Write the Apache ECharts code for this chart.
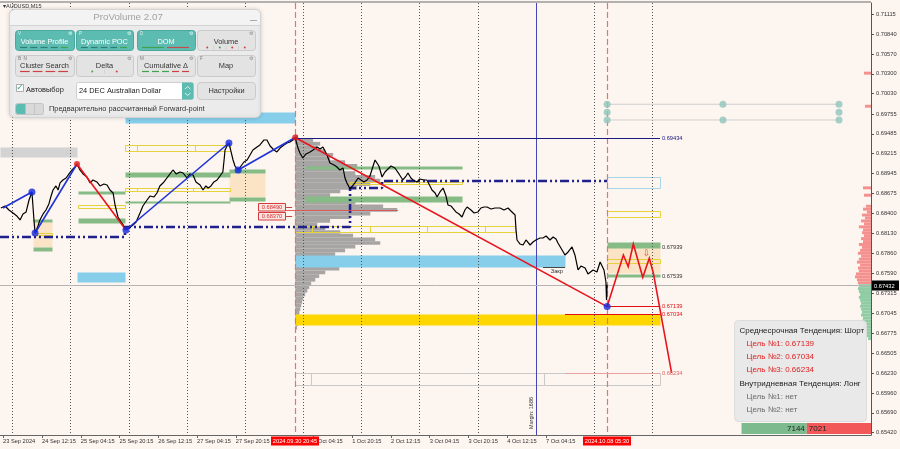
<!DOCTYPE html>
<html><head><meta charset="utf-8"><title>AUDUSD M15</title>
<script src="https://cdn.jsdelivr.net/npm/echarts@6/dist/echarts.min.js"></script>
<style>html,body{margin:0;padding:0;background:#fdf5f0;overflow:hidden}#c{width:900px;height:449px}</style>
</head><body><div id="c"></div>
<script>
// ---------- axes ----------
const X_MIN = -5.08, X_MAX = 354.4;          // trading hours since 24 Sep 00:00
const Y_MIN = 0.65389, Y_MAX = 0.71264;
const xTickHours = [-3.84,12.25,28.25,44.25,60.25,76.25,92.25,124.25,140.25,156.25,172.25,188.25,204.25,220.25];
const xTickLabels = ['23 Sep 2024','24 Sep 12:15','25 Sep 04:15','25 Sep 20:15','26 Sep 12:15','27 Sep 04:15','27 Sep 20:15','1 Oct 04:15','1 Oct 20:15','2 Oct 12:15','3 Oct 04:15','3 Oct 20:15','4 Oct 12:15','7 Oct 04:15'];
const yTickValues = [0.71115,0.70840,0.70570,0.70300,0.70030,0.69755,0.69485,0.69215,0.68945,0.68675,0.68400,0.68130,0.67860,0.67590,0.67315,0.67045,0.66775,0.66505,0.66230,0.65960,0.65690,0.65420];
const dayHours = [0,24,48,72,96,120,144,168,192,216,240,264];
const eventHours = [116.75,245.5];
const dateTagLabels = ['2024.09.30 20:45','2024.10.08 05:30'];
const marginLineHours = [216.1];

// ---------- price (close line) ----------
const priceHours = [-4.7,-3.0,-1.4,0.3,1.9,3.2,4.4,5.7,6.9,8.1,9.0,9.4,10.6,11.4,12.7,13.9,15.1,16.0,16.8,18.0,18.9,19.7,20.9,22.2,23.4,24.6,25.9,26.7,27.9,29.2,30.8,32.1,33.3,34.9,36.2,37.8,39.1,40.3,41.6,42.4,43.6,44.9,46.1,46.9,48.2,49.8,51.1,52.7,53.9,55.6,56.8,58.5,59.7,60.9,62.6,63.8,65.1,66.3,67.6,69.2,70.5,72.1,73.3,74.6,75.8,77.5,78.7,79.9,80.8,82.0,83.2,84.5,85.7,86.9,87.4,87.8,88.6,89.4,90.3,91.1,91.9,93.2,94.4,95.6,96.9,98.1,99.3,101.0,102.2,103.9,105.1,106.4,108.0,109.2,110.5,112.1,113.4,114.6,115.8,116.75,117.9,118.7,119.9,121.2,122.9,124.1,125.8,127.0,128.2,129.9,131.1,132.8,134.0,135.2,136.5,137.3,138.1,139.4,140.2,141.4,142.7,143.5,145.1,146.4,147.6,148.9,149.7,150.5,151.3,152.6,153.8,154.6,156.3,157.9,159.6,161.2,162.5,163.3,164.5,165.4,167.0,168.2,169.9,171.1,172.4,173.2,174.5,175.3,176.5,177.8,179.0,179.8,181.1,181.9,183.1,184.4,185.6,186.8,187.7,189.3,190.6,192.2,193.4,194.7,195.9,197.6,199.2,201.3,202.9,204.6,205.8,206.6,207.5,207.9,208.3,209.5,210.8,212.0,213.7,214.9,216.1,217.8,219.0,220.3,221.9,223.2,224.4,225.2,226.0,226.9,228.1,229.4,231.0,232.2,233.5,234.7,236.4,237.6,238.4,239.7,241.3,242.6,243.4,244.2,245.0,245.25,245.5];
const priceValues = [0.68476,0.68503,0.68449,0.68408,0.68367,0.68313,0.68395,0.68422,0.68585,0.68694,0.68286,0.68136,0.68231,0.68313,0.68395,0.68449,0.68531,0.68639,0.68721,0.68776,0.68721,0.68817,0.68857,0.68884,0.68939,0.68993,0.69034,0.69075,0.68993,0.68939,0.68898,0.68817,0.68857,0.68830,0.68776,0.68803,0.68789,0.68721,0.68680,0.68517,0.68354,0.68286,0.68231,0.68177,0.68204,0.68245,0.68286,0.68408,0.68503,0.68585,0.68639,0.68626,0.68680,0.68776,0.68830,0.68884,0.68939,0.68993,0.68939,0.68966,0.68952,0.68884,0.68939,0.68925,0.68830,0.68789,0.68721,0.68776,0.68748,0.68776,0.68830,0.68857,0.68911,0.68966,0.69129,0.69265,0.69319,0.69360,0.69238,0.69129,0.69047,0.68993,0.69047,0.69102,0.69129,0.69197,0.69265,0.69306,0.69333,0.69401,0.69401,0.69319,0.69265,0.69238,0.69292,0.69333,0.69360,0.69374,0.69401,0.69434,0.69292,0.69224,0.69156,0.69211,0.69238,0.69265,0.69306,0.69279,0.69306,0.69197,0.69088,0.69061,0.69034,0.68993,0.69020,0.68884,0.68817,0.68735,0.68762,0.68817,0.68884,0.68898,0.68830,0.68857,0.68911,0.69047,0.69129,0.69156,0.69047,0.68898,0.68966,0.68993,0.69047,0.69020,0.68939,0.68857,0.68911,0.68952,0.68884,0.68857,0.68830,0.68871,0.68857,0.68857,0.68776,0.68721,0.68680,0.68626,0.68694,0.68748,0.68639,0.68517,0.68503,0.68476,0.68422,0.68395,0.68354,0.68449,0.68490,0.68449,0.68408,0.68422,0.68476,0.68490,0.68490,0.68463,0.68476,0.68476,0.68449,0.68476,0.68435,0.68449,0.68381,0.68177,0.68041,0.67987,0.67973,0.68041,0.67973,0.68014,0.68041,0.68068,0.68068,0.68095,0.68041,0.68082,0.68055,0.68000,0.68000,0.67905,0.67837,0.67878,0.67946,0.67837,0.67633,0.67687,0.67660,0.67579,0.67592,0.67633,0.67606,0.67742,0.67715,0.67633,0.67470,0.67225,0.67432];
const currentPrice = 0.67432;

// ---------- dynamic POC (step line) ----------
const pocHours  = [-5.08,46.5,46.5,139.4,139.4,152.6,152.6,245.5];
const pocPrices = [0.68082,0.68082,0.68218,0.68218,0.68748,0.68748,0.68843,0.68843];

// ---------- zigzag ----------
const zigzagBlue = [
  [[-3.84,0.68476],[8.1,0.68694]],
  [[9.4,0.68136],[26.7,0.69075]],
  [[46.9,0.68177],[89.4,0.69360]],
  [[93.2,0.68993],[116.75,0.69434]]
];
const zigzagRed = [
  [[26.7,0.69075],[46.9,0.68177]],
  [[116.75,0.69434],[245.5,0.67135]],
  [[245.5,0.67135],[252.2,0.67837],[254.2,0.67678],[256.3,0.67987],[260.2,0.67534],[262.9,0.67792],[264.6,0.67588],[272.1,0.66234]]
];
const blueDots = [[8.1,0.68694],[9.4,0.68136],[46.9,0.68177],[89.4,0.69360],[93.2,0.68993],[245.5,0.67135]];
const redDots = [[26.7,0.69075],[116.75,0.69434]];
const forwardDots = [[245.5,0.69887],[245.5,0.69778],[245.5,0.69673],[293.3,0.69887],[293.3,0.69673],[341.2,0.69887],[341.2,0.69778],[341.2,0.69673]];
const forwardLinks = [[[245.5,0.69887],[341.2,0.69887]],[[245.5,0.69673],[341.2,0.69673]]];

// ---------- zones [startHour, endHour, lowPrice, highPrice] ----------
const greenZones = [
  [8.5,16.4,0.68286,0.68327],[8.5,16.4,0.67891,0.67946],
  [27.1,46.5,0.68667,0.68707],[27.1,46.5,0.68272,0.68340],
  [46.5,89.8,0.68898,0.68966],[46.5,89.8,0.68544,0.68571],
  [89.4,104.3,0.68952,0.69007],[89.4,104.3,0.68571,0.68626],
  [120.8,185.6,0.69007,0.69047],[120.8,185.6,0.68558,0.68639],
  [245.5,267.3,0.67939,0.68020],[245.5,267.3,0.67539,0.67585]
];
const beigeZones = [[8.5,16.4,0.67946,0.68286],[89.4,104.3,0.68626,0.68952],[245.5,267.3,0.67585,0.67939]];
const yellowBoxes = [
  [8.5,16.4,0.68109,0.68136],
  [27.1,46.5,0.68476,0.68517],
  [46.5,51.5,0.68707,0.68748],[51.5,74.6,0.68707,0.68748],[74.6,89.8,0.68707,0.68748],
  [46.5,51.5,0.69251,0.69333],[51.5,75.4,0.69251,0.69333],[75.4,89.8,0.69251,0.69333],
  [139.4,185.6,0.68803,0.68830],
  [116.75,123.7,0.68150,0.68231],[123.7,147.6,0.68150,0.68231],[147.6,171.1,0.68150,0.68231],[171.1,195.1,0.68150,0.68231],[195.1,207.5,0.68150,0.68231],
  [245.5,267.3,0.67728,0.67783],
  [245.5,267.3,0.68354,0.68435]
];
const blueZones = [[46.5,116.75,0.69632,0.69782],[26.7,46.5,0.67470,0.67606],[116.75,228.1,0.67674,0.67837]];
const blueOutlineBoxes = [[245.5,267.3,0.68748,0.68898]];
const grayZones = [[-5.08,26.7,0.69170,0.69306]];
const goldZones = [[116.75,267.3,0.66885,0.67034]];
const grayOutlineBoxes = [[116.75,123.3,0.66069,0.66232],[123.3,219.4,0.66069,0.66232],[219.4,267.3,0.66069,0.66232]];

// ---------- levels ----------
const levelPrices = [0.69434,0.67139,0.67034,0.66234];
const levelStartHours = [116.75,245.5,228.1,228.1];
const levelEndHours = [267.3,267.3,267.3,267.3];
const labelOnlyPrices = [0.67939,0.67539];
const pocRedPrice = 0.68440, pocRedHours = [111.5,159.2];
const redTagPrices = [0.68490,0.68370];
const closeMarkPrice = 0.67674, closeMarkHours = [219.0,228.1];

// ---------- volume profile (session from 30 Sep 20:45) ----------
const profileStartHour = 116.75;
const profilePrices = [0.6945,0.6940,0.6935,0.6930,0.6925,0.6920,0.6915,0.6910,0.6905,0.6900,0.6895,0.6890,0.6885,0.6880,0.6875,0.6870,0.6865,0.6860,0.6855,0.6850,0.6845,0.6840,0.6835,0.6830,0.6825,0.6820,0.6815,0.6810,0.6805,0.6800,0.6795,0.6790,0.6785,0.6780,0.6775,0.6770,0.6765,0.6760,0.6755,0.6750,0.6745,0.6740,0.6735,0.6730,0.6725,0.6720,0.6715,0.6710,0.6705,0.6700,0.6695,0.6690,0.6685];
const profileWidths = [1.2,7.4,10.3,9.1,12.4,15.7,14.4,20.6,25.6,19.8,24.8,33.0,35.1,31.0,25.6,18.6,14.4,19.8,24.8,36.3,42.1,31.0,22.7,14.4,9.1,12.4,18.6,23.9,33.0,35.1,24.8,20.6,16.5,18.6,17.3,19.8,18.2,12.4,9.9,8.3,6.6,5.8,5.0,4.1,3.3,2.9,2.5,2.1,1.7,1.7,1.2,1.2,0.8];

// ---------- DOM ----------
const domSellPrices = [0.7031,0.6986,0.6875,0.6865,0.6850,0.6846,0.6842,0.6838,0.6834,0.6830,0.6826,0.6822,0.6818,0.6814,0.6810,0.6806,0.6802,0.6798,0.6794,0.6790,0.6786,0.6782,0.6778,0.6774,0.6770,0.6766,0.6762,0.6758,0.6754,0.6750,0.6746];
const domSellSizes  = [2.9,2.5,3.3,2.9,2.1,3.3,1.7,3.7,2.5,4.1,2.9,5.0,3.3,3.7,2.9,4.1,3.3,5.0,3.7,4.5,5.4,4.1,5.0,5.8,4.5,5.4,5.0,6.2,6.6,5.8,5.4];
const domBuyPrices = [0.6742,0.6738,0.6734,0.6730,0.6726,0.6722,0.6718,0.6714,0.6710,0.6706,0.6702,0.6698,0.6694,0.6690,0.6686,0.6682,0.6678,0.6674,0.6670];
const domBuySizes  = [5.0,5.4,5.0,4.5,5.0,4.5,4.1,4.5,4.1,3.7,4.1,3.3,3.7,2.9,3.3,2.5,2.1,1.7,1.2];
const buyVolume = 7144, sellVolume = 7021;

// ---------- texts ----------
const infoLines = ['Среднесрочная Тенденция: Шорт','Цель №1: 0.67139','Цель №2: 0.67034','Цель №3: 0.66234','Внутридневная Тенденция: Лонг','Цель №1: нет','Цель №2: нет'];
const panelButtons = [['Volume Profile','Dynamic POC','DOM','Volume'],['Cluster Search','Delta','Cumulative Δ','Map']];

// =====================================================================
const FONT = '"Liberation Sans", Arial, sans-serif';
const f = s => s + 'px ' + FONT;

function zoneSeries(zones, style, z){
  return {type:'custom', z, silent:true, clip:true, data:zones, encode:{x:[0,1], y:[2,3]},
    renderItem(params, api){
      const a = api.coord([api.value(0), api.value(3)]);
      const b = api.coord([api.value(1), api.value(2)]);
      return {type:'rect', shape:{x:Math.round(a[0])+0.5, y:Math.round(a[1])+0.5, width:Math.round(b[0]-a[0]), height:Math.max(1,Math.round(b[1]-a[1]))}, style:Object.assign({}, style)};
    }};
}
function vlineSeries(hours, style, z){
  return {type:'custom', z, silent:true, clip:true, data:hours.map(h=>[h, Y_MIN]), encode:{x:0, y:1},
    renderItem(params, api){
      const x = Math.round(api.coord([api.value(0), Y_MIN])[0]) + 0.5;
      const yb = api.coord([0, Y_MIN])[1], yt = api.coord([0, Y_MAX])[1];
      return {type:'line', shape:{x1:x, y1:yt, x2:x, y2:yb}, style:Object.assign({}, style)};
    }};
}
function barSeries(prices, starts, ends, halfH, color, z){
  return {type:'custom', z, silent:true, clip:true,
    data:prices.map((p,i)=>[starts[i], ends[i], p]), encode:{x:[0,1], y:2},
    renderItem(params, api){
      const a = api.coord([api.value(0), api.value(2)+halfH]);
      const b = api.coord([api.value(1), api.value(2)-halfH]);
      return {type:'rect', shape:{x:a[0], y:a[1], width:b[0]-a[0], height:b[1]-a[1]}, style:{fill:color}};
    }};
}

const levelStyles = [
  {line:'#1a1a80', text:'#1a1a80'},
  {line:'#e01010', text:'#e01010'},
  {line:'#e01010', text:'#e01010'},
  {line:'#e8a0a0', text:'#e06666'}
];

const series = [
  zoneSeries(grayZones, {fill:'#d3d3d3'}, 1),
  zoneSeries(beigeZones, {fill:'#fbe4c6'}, 1),
  barSeries(profilePrices, profilePrices.map(()=>profileStartHour), profileWidths.map(w=>profileStartHour+w), 0.00025, 'rgba(150,150,150,0.85)', 2),
  zoneSeries(blueZones, {fill:'#87ceeb'}, 3),
  zoneSeries(greenZones, {fill:'#86bb86'}, 3),
  zoneSeries(yellowBoxes, {fill:null, stroke:'#e6d23c', lineWidth:1}, 3),
  zoneSeries(goldZones, {fill:'#ffd700'}, 3),
  zoneSeries(grayOutlineBoxes, {fill:null, stroke:'#c9c9c9', lineWidth:1}, 3),
  zoneSeries(blueOutlineBoxes, {fill:null, stroke:'#a6d6e8', lineWidth:1}, 3),
  barSeries(domSellPrices, domSellSizes.map(s=>X_MAX-s), domSellPrices.map(()=>X_MAX), 0.0002, '#f4918f', 3),
  barSeries(domBuyPrices, domBuySizes.map(s=>X_MAX-s), domBuyPrices.map(()=>X_MAX), 0.0002, '#8fcca3', 3),
  vlineSeries(dayHours, {stroke:'#555', lineWidth:1, lineDash:[1,2]}, 4),
  vlineSeries(eventHours, {stroke:'#e67474', lineWidth:1.2, lineDash:[6,3]}, 4),
  vlineSeries(marginLineHours, {stroke:'#4646b4', lineWidth:1}, 4),
  // current price (bid) line + axis tag
  {type:'custom', z:4, silent:true, clip:false, data:[[X_MIN, currentPrice]], encode:{x:0, y:1},
    renderItem(params, api){
      const a = api.coord([X_MIN, api.value(1)]), b = api.coord([X_MAX, api.value(1)]);
      const y = Math.round(a[1]) + 0.5;
      return {type:'group', children:[
        {type:'line', shape:{x1:a[0], y1:y, x2:b[0], y2:y}, style:{stroke:'#b4b4b4', lineWidth:1}},
        {type:'rect', shape:{x:b[0]+1, y:y-5, width:27, height:10}, style:{fill:'#000'}},
        {type:'text', x:b[0]+3, y:y+0.5, style:{text:api.value(1).toFixed(5), fill:'#fff', font:f(5.7), verticalAlign:'middle'}}
      ]};
    }},
  {type:'line', z:5, silent:true, showSymbol:false, data:pocHours.map((h,i)=>[h,pocPrices[i]]),
    lineStyle:{color:'#20208a', width:2.6, type:[9,3,2,3,2,3]}},
  {type:'lines', coordinateSystem:'cartesian2d', z:5, silent:true, polyline:true,
    data:forwardLinks.map(c=>({coords:c})), lineStyle:{color:'#d0d0d0', width:1, opacity:1}},
  {type:'line', z:6, silent:true, showSymbol:false, data:priceHours.map((h,i)=>[h,priceValues[i]]),
    lineStyle:{color:'#000', width:1.2}},
  {type:'lines', coordinateSystem:'cartesian2d', z:7, silent:true, polyline:true,
    data:zigzagBlue.map(c=>({coords:c})), lineStyle:{color:'#1e32d8', width:1.6, opacity:1}},
  {type:'lines', coordinateSystem:'cartesian2d', z:7, silent:true, polyline:true,
    data:zigzagRed.map(c=>({coords:c})), lineStyle:{color:'#e8141e', width:1.6, opacity:1}},
  // level lines with right-end labels
  {type:'custom', z:7, silent:true, clip:false,
    data:levelPrices.map((p,i)=>[levelStartHours[i], levelEndHours[i], p]), encode:{x:[0,1], y:2},
    renderItem(params, api){
      const st = levelStyles[params.dataIndex];
      const a = api.coord([api.value(0), api.value(2)]), b = api.coord([api.value(1), api.value(2)]);
      const y = Math.round(a[1]) + 0.5;
      return {type:'group', children:[
        {type:'line', shape:{x1:a[0], y1:y, x2:b[0], y2:y}, style:{stroke:st.line, lineWidth:1.2}},
        {type:'text', x:b[0]+2, y:y, style:{text:api.value(2).toFixed(5), fill:st.text, font:f(5.7), verticalAlign:'middle'}}
      ]};
    }},
  {type:'custom', z:7, silent:true, clip:false,
    data:labelOnlyPrices.map(p=>[levelEndHours[0], p]), encode:{x:0, y:1},
    renderItem(params, api){
      const a = api.coord([api.value(0), api.value(1)]);
      return {type:'text', x:a[0]+2, y:a[1], style:{text:api.value(1).toFixed(5), fill:'#333', font:f(5.7), verticalAlign:'middle'}};
    }},
  // thin red POC line of session profile
  {type:'lines', coordinateSystem:'cartesian2d', z:6, silent:true,
    data:[{coords:[[pocRedHours[0],pocRedPrice],[pocRedHours[1],pocRedPrice]]}], lineStyle:{color:'#e05050', width:1, opacity:0.9}},
  // close mark
  {type:'custom', z:7, silent:true, clip:false, data:[[closeMarkHours[0], closeMarkHours[1], closeMarkPrice]], encode:{x:[0,1], y:2},
    renderItem(params, api){
      const a = api.coord([api.value(0), api.value(2)]), b = api.coord([api.value(1), api.value(2)]);
      return {type:'group', children:[
        {type:'line', shape:{x1:a[0], y1:Math.round(a[1])+0.5, x2:b[0], y2:Math.round(a[1])+0.5}, style:{stroke:'#444', lineWidth:1}},
        {type:'text', x:b[0]-2, y:a[1]+4, style:{text:'Закр', fill:'#333', font:f(5.7), align:'right', verticalAlign:'middle'}}
      ]};
    }},
  // red boxed price tags
  {type:'custom', z:8, silent:true, clip:false, data:redTagPrices.map(p=>[113.0, p]), encode:{x:0, y:1},
    renderItem(params, api){
      const a = api.coord([api.value(0), api.value(1)]);
      const y = Math.round(a[1]);
      return {type:'group', children:[
        {type:'rect', shape:{x:Math.round(a[0])-27.5, y:y-3.5, width:27, height:7.5}, style:{fill:'#fde6e2', stroke:'#d23c3c', lineWidth:1}},
        {type:'text', x:Math.round(a[0])-14, y:y+0.5, style:{text:api.value(1).toFixed(5), fill:'#d03030', font:f(5.7), align:'center', verticalAlign:'middle'}},
        {type:'line', shape:{x1:a[0], y1:y+0.5, x2:a[0]+6, y2:y+0.5}, style:{stroke:'#d23c3c', lineWidth:1}}
      ]};
    }},
  // forecast arrow
  {type:'custom', z:8, silent:true, clip:false, data:[[261.8, 0.67860]], encode:{x:0, y:1},
    renderItem(params, api){
      const a = api.coord([api.value(0), api.value(1)]);
      return {type:'text', x:a[0], y:a[1], style:{text:'⇩', fill:'#e04a4a', font:'9px "DejaVu Sans", sans-serif', align:'center', verticalAlign:'middle'}};
    }},
  {type:'scatter', z:9, silent:true, symbolSize:7, data:forwardDots, itemStyle:{color:'#8fc5bc'}},
  {type:'scatter', z:9, silent:true, symbolSize:7, data:blueDots, itemStyle:{color:'#1428e0'}},
  {type:'scatter', z:9, silent:true, symbolSize:6, data:redDots, itemStyle:{color:'#e01818'}},
  // date tags on the x axis
  {type:'custom', z:10, silent:true, clip:false, data:eventHours.map(h=>[h, Y_MIN]), encode:{x:0, y:1},
    renderItem(params, api){
      const a = api.coord([api.value(0), Y_MIN]);
      const x = Math.round(a[0]);
      return {type:'group', children:[
        {type:'rect', shape:{x:x-24, y:a[1]+1.5, width:48, height:9}, style:{fill:'#ff0000'}},
        {type:'text', x:x, y:a[1]+6.2, style:{text:dateTagLabels[params.dataIndex], fill:'#fff', font:f(5.7), align:'center', verticalAlign:'middle'}}
      ]};
    }}
];

// ---------- graphics: ProVolume panel, info box ----------
const teal = '#5cbcb1';
const G = [];
function add(el){ el.z = 100; G.push(el); }
add({type:'line', shape:{x1:0, y1:2, x2:871, y2:2}, style:{stroke:'#9a9a9a', lineWidth:1.5}});
add({type:'text', x:3, y:6.5, style:{text:'▾AUDUSD,M15', fill:'#333', font:f(5.5), verticalAlign:'middle'}});
add({type:'rect', shape:{x:9.5, y:9.5, width:251, height:108, r:5}, style:{fill:'#ebebeb', stroke:'#d4d4d4', lineWidth:1, shadowBlur:4, shadowColor:'rgba(0,0,0,0.15)'}});
add({type:'rect', shape:{x:10, y:10, width:250, height:15.5, r:[5,5,0,0]}, style:{fill:'#f3f3f3'}});
add({type:'line', shape:{x1:10, y1:25.5, x2:260, y2:25.5}, style:{stroke:'#d2d2d2', lineWidth:1}});
add({type:'text', x:128, y:17.5, style:{text:'ProVolume 2.07', fill:'#a3a3a3', font:f(9.8), align:'center', verticalAlign:'middle'}});
add({type:'line', shape:{x1:250, y1:20.5, x2:257, y2:20.5}, style:{stroke:'#aaa', lineWidth:1}});

const btnX = [15,76,137,197], btnW = [59,57,58,58];
const btnKeys = [['V','P','D',''],['B  N','','M','F']];
const btnTeal = [[true,true,true,false],[false,false,false,false]];
const btnMarks = [
  [{t:'dash',c:['#2e7d74','#2e7d74','#2e7d74','#2e7d74','#3fa34d']},{t:'dash',c:['#2e7d74','#2e7d74','#2e7d74','#2e7d74','#3fa34d']},{t:'dash',c:['#3fa34d','#c84b4b']},{t:'dot',c:['#d04040','#3fa34d','#d04040','#d04040']}],
  [{t:'dash',c:['#d04040','#d04040','#d04040','#d04040']},{t:'dot',c:['#3fa34d','#d04040']},{t:'dash',c:['#3fa34d','#3fa34d','#3fa34d','#d04040','#d04040']},null]
];
const rowY = [30,55], rowH = [20,21], textOff = [12,10.5], markOff = [17.5,16.5];
for (let r=0;r<2;r++){
  for (let i=0;i<4;i++){
    const x=btnX[i], y=rowY[r], w=btnW[i], h=rowH[r], tl=btnTeal[r][i];
    add({type:'rect', shape:{x:x+0.5, y:y+0.5, width:w, height:h, r:3}, style:{fill:tl?teal:'#e3e3e3', stroke:tl?'#4aa89d':'#cacaca', lineWidth:1}});
    add({type:'text', x:x+w/2, y:y+textOff[r], style:{text:panelButtons[r][i], fill:tl?'#fff':'#333', font:f(7.4), align:'center', verticalAlign:'middle'}});
    if (btnKeys[r][i]) add({type:'text', x:x+3, y:y+3.5, style:{text:btnKeys[r][i], fill:tl?'#dff3ef':'#777', font:f(4.5), verticalAlign:'middle'}});
    add({type:'text', x:x+w-6, y:y+3.5, style:{text:'⚙', fill:tl?'#eaf7f5':'#888', font:'5px "DejaVu Sans", sans-serif', verticalAlign:'middle'}});
    const m = btnMarks[r][i];
    if (m){
      const n=m.c.length, segW=(w-8)/n, my=y+markOff[r];
      m.c.forEach((c,k)=>{
        const sx=x+4+k*segW;
        if (m.t==='dash') add({type:'line', shape:{x1:sx+1, y1:my, x2:sx+segW-2, y2:my}, style:{stroke:c, lineWidth:1.2}});
        else {
          add({type:'circle', shape:{cx:sx+segW/2, cy:my, r:1}, style:{fill:c}});
          if (k>0) add({type:'line', shape:{x1:sx, y1:my-2, x2:sx, y2:my+2}, style:{stroke:'#d0d0d0', lineWidth:0.8}});
        }
      });
    }
  }
}
// row 3
add({type:'rect', shape:{x:16.5, y:84.5, width:7, height:7}, style:{fill:'#fff', stroke:'#9a9a9a', lineWidth:0.8}});
add({type:'text', x:16.2, y:87.5, style:{text:'✓', fill:'#3aa89c', font:'9px "DejaVu Sans", sans-serif', verticalAlign:'middle'}});
add({type:'text', x:26, y:90, style:{text:'Автовыбор', fill:'#222', font:f(7.4), verticalAlign:'middle'}});
add({type:'rect', shape:{x:76.5, y:82.5, width:117, height:17, r:2}, style:{fill:'#fff', stroke:'#cfcfcf', lineWidth:1}});
add({type:'text', x:79, y:91, style:{text:'24 DEC Australian Dollar', fill:'#222', font:f(7.4), verticalAlign:'middle'}});
add({type:'rect', shape:{x:182, y:82.5, width:11.5, height:17, r:[0,2,2,0]}, style:{fill:teal}});
add({type:'polyline', shape:{points:[[185,89],[187.7,86.5],[190.4,89]]}, style:{stroke:'#fff', lineWidth:0.8, fill:null}});
add({type:'polyline', shape:{points:[[185,93],[187.7,95.5],[190.4,93]]}, style:{stroke:'#fff', lineWidth:0.8, fill:null}});
add({type:'rect', shape:{x:197.5, y:82.5, width:58, height:17, r:3}, style:{fill:'#e3e3e3', stroke:'#cacaca', lineWidth:1}});
add({type:'text', x:226.5, y:91, style:{text:'Настройки', fill:'#333', font:f(7.4), align:'center', verticalAlign:'middle'}});
// row 4
add({type:'rect', shape:{x:15.5, y:103.5, width:28, height:11, r:2}, style:{fill:'#d9d9d9', stroke:'#c4c4c4', lineWidth:1}});
add({type:'rect', shape:{x:16, y:104, width:9.5, height:10, r:[2,0,0,2]}, style:{fill:teal}});
add({type:'line', shape:{x1:34.5, y1:104, x2:34.5, y2:114}, style:{stroke:'#c4c4c4', lineWidth:1}});
add({type:'text', x:49, y:109, style:{text:'Предварительно рассчитанный Forward-point', fill:'#333', font:f(7.4), verticalAlign:'middle'}});

// info box
add({type:'rect', shape:{x:734.5, y:320.5, width:132, height:101, r:4}, style:{fill:'rgba(232,232,232,0.95)', stroke:'#dcdcdc', lineWidth:1}});
const infoY = [330.5,344,357,370,383.5,396.5,410];
const infoX = [739.5,746.5,746.5,746.5,739.5,746.5,746.5];
const infoColors = ['#222','#e02020','#e02020','#e02020','#222','#6a6a6a','#6a6a6a'];
infoLines.forEach((t,i)=>add({type:'text', x:infoX[i], y:infoY[i], style:{text:t, fill:infoColors[i], font:f(8), verticalAlign:'middle'}}));
// buy / sell volume bar
const barL = 741.5, barR = 871, splitX = barL + (barR-barL)*buyVolume/(buyVolume+sellVolume);
add({type:'rect', shape:{x:barL, y:423, width:splitX-barL, height:11}, style:{fill:'#7dbb8f'}});
add({type:'rect', shape:{x:splitX, y:423, width:barR-splitX, height:11}, style:{fill:'#f25858'}});
add({type:'text', x:splitX-2, y:429, style:{text:String(buyVolume), fill:'#222', font:f(8), align:'right', verticalAlign:'middle'}});
add({type:'text', x:splitX+2, y:429, style:{text:String(sellVolume), fill:'#222', font:f(8), verticalAlign:'middle'}});
// margin text
add({type:'text', x:531, y:413, rotation:Math.PI/2, style:{text:'Margin: 1686', fill:'#333', font:f(5.5), align:'center', verticalAlign:'middle'}});

const option = {
  animation:false,
  backgroundColor:'#fdf5f0',
  textStyle:{fontFamily:'"Liberation Sans", Arial, sans-serif'},
  grid:{left:0, right:29, top:3, bottom:14, containLabel:false, outerBoundsMode:'none'},
  xAxis:{type:'value', min:X_MIN, max:X_MAX,
    axisLine:{show:true, onZero:false, lineStyle:{color:'#666', width:1}},
    axisTick:{show:true, customValues:xTickHours, length:3, lineStyle:{color:'#666'}},
    axisLabel:{show:true, customValues:xTickHours, align:'left', margin:3, fontSize:5.7, color:'#333',
      formatter:(v)=>{ const i = xTickHours.findIndex(h=>Math.abs(h-v)<1e-6); return i>=0 ? xTickLabels[i] : ''; }},
    splitLine:{show:false}},
  yAxis:{type:'value', position:'right', min:Y_MIN, max:Y_MAX, scale:true,
    axisLine:{show:true, onZero:false, lineStyle:{color:'#555'}},
    axisTick:{show:true, customValues:yTickValues, length:3, lineStyle:{color:'#555'}},
    axisLabel:{customValues:yTickValues, fontSize:5.7, color:'#333', margin:5, formatter:v=>v.toFixed(5)},
    splitLine:{show:false}},
  graphic:{elements:G},
  series:series
};
const chart = echarts.init(document.getElementById('c'), null, {renderer:'canvas'});
chart.setOption(option);
</script></body></html>
